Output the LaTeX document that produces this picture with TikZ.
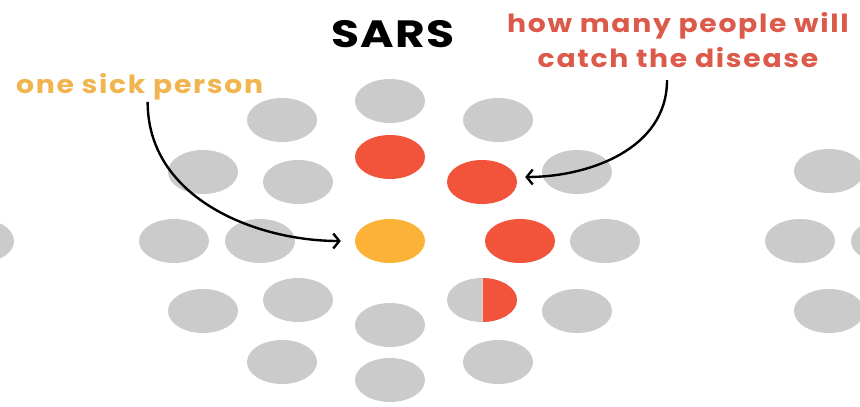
\documentclass[tikz,border=0pt]{standalone}
\usepackage{fontspec}
\setmainfont{Poppins}
\usetikzlibrary{shapes.geometric,arrows.meta}
\definecolor{dotgray}{HTML}{CBCBCB}
\definecolor{caughtred}{HTML}{F2533B}
\definecolor{sickorange}{HTML}{FBB236}
\definecolor{labelorange}{HTML}{F0B54E}
\definecolor{labelred}{HTML}{DC5A4A}
\tikzset{
  dot/.style={ellipse, minimum width=70pt, minimum height=44pt, inner sep=0pt, fill=dotgray},
  sickdot/.style={dot, fill=sickorange},
  reddot/.style={dot, fill=caughtred},
  pointer/.style={line width=2.4pt, black, -{Straight Barb[length=6pt,width=15pt]}},
  lbl/.style={inner sep=2pt, font=\bfseries\fontsize{25}{35}\selectfont\addfontfeatures{LetterSpace=6}},
}
\newcommand\drawcluster[2]{%
  \foreach \dx/\dy/\n in {0/-140/a,0/140/b,0/-84/c,0/84/d,108/-121/e,-108/-121/f,108/121/g,-108/121/h,92/-59/i,-92/-59/j,92/59/k,-92/59/l,187/-70/m,-187/-70/n,187/70/o,-187/70/p,130/0/q,-130/0/r,216/0/s,-216/0/t}
    {\node[dot] (#1-\n) at (#2+\dx,241+\dy) {};}%
}
\begin{document}
\begin{tikzpicture}[x=1pt,y=-1pt]
\useasboundingbox (0,0) rectangle (860,407);
\clip (0,0) rectangle (860,407);
\fill[white] (0,0) rectangle (860,407);
% side clusters
\drawcluster{left}{-237}
\drawcluster{right}{1016}
% centre cluster
\node[sickdot] (ill) at (390,241) {};
\node[dot] (c-a) at (390,101) {};
\node[dot] (c-b) at (390,380) {};
\node[reddot] (c-c) at (390,157) {};
\node[dot] (c-d) at (390,325) {};
\node[dot] (c-e) at (498,120) {};
\node[dot] (c-f) at (282,120) {};
\node[dot] (c-g) at (498,362) {};
\node[dot] (c-h) at (282,362) {};
\node[reddot] (c-i) at (482,182) {};
\node[dot] (c-j) at (298,182) {};
\node[dot] (c-k) at (482,300) {};
\node[dot] (c-l) at (298,300) {};
\node[dot] (c-m) at (577,172) {};
\node[dot] (c-n) at (203,172) {};
\node[dot] (c-o) at (577,311) {};
\node[dot] (c-p) at (203,311) {};
\node[reddot] (c-q) at (520,241) {};
\node[dot] (c-r) at (260,241) {};
\node[dot] (c-s) at (605,241) {};
\node[dot] (c-t) at (174,241) {};
% half-infected dot
\begin{scope}
  \clip (482,270) rectangle (525,330);
  \fill[caughtred] (c-k.center) ellipse [x radius=35pt, y radius=22pt];
\end{scope}
\draw[line width=1pt, white!70!caughtred] (c-k.north) -- (c-k.south);
% texts
\node[inner sep=0pt, font=\bfseries\fontsize{38}{38}\selectfont\addfontfeatures{LetterSpace=3}] (sars) at (393,34) {\scalebox{1.2}[1]{SARS}};
\node[lbl, text=labelorange, anchor=base west] (sick) at (14,93) {\scalebox{1.13}[1]{one sick person}};
\node[lbl, text=labelred] (how) at (678,43) {\scalebox{1.13}[1]{\begin{tabular}{@{}c@{}}how many people will\\catch the disease\end{tabular}}};
% arrows
\draw[pointer, shorten >=14pt] ([xshift=8pt]sick.south) to[out=-90, in=180] (ill.west);
\draw[pointer, shorten >=8pt] ([xshift=-11pt]how.south) to[out=-90, in=0] ([yshift=5pt]c-i.east);
\end{tikzpicture}
\end{document}
